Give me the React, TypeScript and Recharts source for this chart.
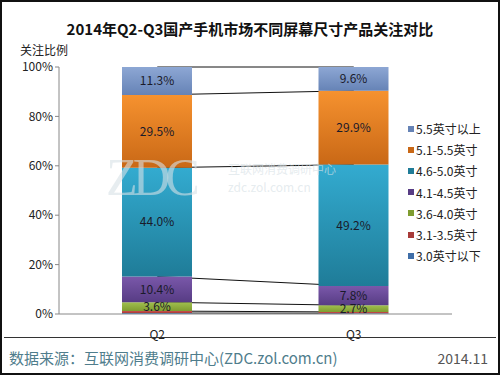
import { BarChart, Bar, XAxis, YAxis, ReferenceLine, LabelList } from 'recharts';

const quarters = ['Q2', 'Q3'];
const sizeNames = ['3.0英寸以下', '3.1-3.5英寸', '3.6-4.0英寸', '4.1-4.5英寸', '4.6-5.0英寸', '5.1-5.5英寸', '5.5英寸以上'];
const q2Share = [0.4, 0.8, 3.6, 10.4, 44.0, 29.5, 11.3];
const q3Share = [0.3, 0.5, 2.7, 7.8, 49.2, 29.9, 9.6];
const showLabel = [false, false, true, true, true, true, true];
const yTicks = [0, 20, 40, 60, 80, 100];

// top / bottom colour of each segment's vertical gradient
const segColors = [
  ['#5a8ac6', '#3f6ea8'],
  ['#c9504c', '#a83b38'],
  ['#a0c04e', '#7f9c30'],
  ['#7a58aa', '#573c84'],
  ['#33abd0', '#1f7c98'],
  ['#f6922f', '#c96816'],
  ['#8da7d4', '#6683b6'],
];

const font = '"Noto Sans CJK SC", "Noto Sans", sans-serif';

const rows = quarters.map((q, qi) => {
  const vals = qi === 0 ? q2Share : q3Share;
  const row: Record<string, any> = { name: q };
  vals.forEach((v, i) => (row['s' + i] = v));
  return row;
});

// cumulative tops of each segment, used for the series lines between bars
const cum = (arr: number[], k: number) => arr.slice(0, k + 1).reduce((a, b) => a + b, 0);

export default function App() {
  return (
    <div style={{ position: 'fixed', left: 0, top: 0, width: 500, height: 375, background: '#fff', fontFamily: font, boxSizing: 'border-box', border: '2px solid #111' }}>
      <div style={{ position: 'absolute', left: 0, width: 496, top: 16, textAlign: 'center', fontSize: 15, fontWeight: 'bold', color: '#111' }}>
        2014年Q2-Q3国产手机市场不同屏幕尺寸产品关注对比
      </div>
      <div style={{ position: 'absolute', left: 18, top: 39, fontSize: 12, color: '#222' }}>关注比例</div>

      <div style={{ position: 'absolute', left: -2, top: -2 }}>
        <BarChart width={500} height={375} data={rows} margin={{ top: 67, right: 48, left: 9, bottom: 31 }} barSize={70}>
          <defs>
            {segColors.map((c, i) => (
              <linearGradient key={i} id={'g' + i} x1="0" y1="0" x2="0" y2="1">
                <stop offset="0%" stopColor={c[0]} />
                <stop offset="100%" stopColor={c[1]} />
              </linearGradient>
            ))}
          </defs>
          <XAxis dataKey="name" axisLine={{ stroke: '#888' }} tickLine={false} tickMargin={10} tick={{ fontSize: 12, fill: '#222', fontFamily: font }} />
          <YAxis domain={[0, 100]} ticks={yTicks} width={50} axisLine={{ stroke: '#888' }} tickLine={{ stroke: '#888' }} tickSize={4} tickFormatter={(v) => v + '%'} tick={{ fontSize: 12, fill: '#222', fontFamily: font }} />
          {sizeNames.map((_, k) => (
            <ReferenceLine
              key={'l' + k}
              segment={[{ x: 'Q2', y: cum(q2Share, k) }, { x: 'Q3', y: cum(q3Share, k) }]}
              stroke="#111"
              strokeWidth={1}
              ifOverflow="visible"
              zIndex={-1}
            />
          ))}
          {sizeNames.map((n, i) => (
            <Bar key={n} dataKey={'s' + i} name={n} stackId="a" fill={`url(#g${i})`} isAnimationActive={false}>
              {showLabel[i] && (
                <LabelList dataKey={'s' + i} position="center" formatter={(v: any) => Number(v).toFixed(1) + '%'} style={{ fontSize: 12, fill: '#1a1a2a', fontFamily: font }} />
              )}
            </Bar>
          ))}
        </BarChart>
      </div>

      <div style={{ position: 'absolute', left: 104, top: 146, fontSize: 52, fontFamily: 'serif', color: 'rgba(215,225,230,0.6)', letterSpacing: -5, pointerEvents: 'none' }}>ZDC</div>
      <div style={{ position: 'absolute', left: 226, top: 158, fontSize: 12, color: 'rgba(215,225,230,0.65)', pointerEvents: 'none' }}>互联网消费调研中心</div>
      <div style={{ position: 'absolute', left: 226, top: 176, fontSize: 12, color: 'rgba(215,225,230,0.65)', pointerEvents: 'none' }}>zdc.zol.com.cn</div>

      <div style={{ position: 'absolute', left: 406, top: 116 }}>
        {sizeNames.slice().reverse().map((n, j) => {
          const i = sizeNames.length - 1 - j;
          return (
            <div key={n} style={{ display: 'flex', alignItems: 'center', height: 21.2, fontSize: 12, color: '#222' }}>
              <span style={{ width: 6, height: 6, background: segColors[i][1], marginRight: 2 }} />
              {n}
            </div>
          );
        })}
      </div>

      <div style={{ position: 'absolute', left: 2, right: 2, top: 335, borderTop: '1px solid #333' }} />
      <div style={{ position: 'absolute', left: 7, top: 345, fontSize: 15, color: '#4f7d8c' }}>数据来源：互联网消费调研中心(ZDC.zol.com.cn)</div>
      <div style={{ position: 'absolute', right: 10, top: 346, fontSize: 14, color: '#555' }}>2014.11</div>
    </div>
  );
}
